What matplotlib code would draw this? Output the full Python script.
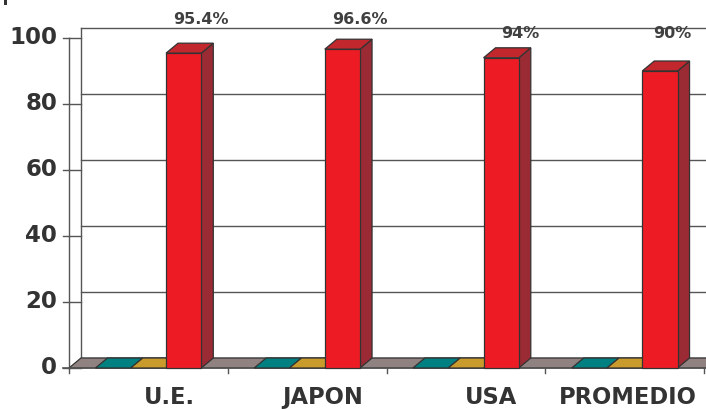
import numpy as np
import matplotlib.pyplot as plt
from matplotlib.patches import Polygon, Rectangle

# ---- data ----
categories = ['U.E.', 'JAPON', 'USA', 'PROMEDIO']
serie_teal = [0, 0, 0, 0]
serie_gold = [0, 0, 0, 0]
serie_red = [95.4, 96.6, 94, 90]
value_labels = ['95.4%', '96.6%', '94%', '90%']
y_ticks = [0, 20, 40, 60, 80, 100]

# ---- style ----
c_floor = '#8f8280'
c_teal = '#008080'
c_gold = '#c99a2c'
c_red = ('#ed1c24', '#c1272d', '#9a2a33')   # front, top, side
c_edge = '#333333'
c_grid = '#555555'
c_text = '#333333'
font = 'DejaVu Sans'

W, H = 706, 409
fig = plt.figure(figsize=(W / 100, H / 100), dpi=100)
ax = fig.add_axes([0, 0, 1, 1])
ax.axis('off')

# pixel mapping of the front plane
x0px, cat_px = 69, 158.75
y0px, unit_px = 41, 3.3
ax.set_xlim(-x0px / cat_px, (W - x0px) / cat_px)
ax.set_ylim(-y0px / unit_px, (H - y0px) / unit_px)

dx = 12 / cat_px      # depth offset
dy = 10 / unit_px
n = len(categories)
bw = 1 / 4.5          # gap width 150%
off0 = 0.75 * bw


def poly(pts, fc, z, lw=0.9):
    ax.add_patch(Polygon(pts, closed=True, fc=fc, ec=c_edge, lw=lw, zorder=z,
                         joinstyle='miter'))


# back wall gridlines
for v in y_ticks:
    ax.plot([dx, n + dx + 1], [v + dy, v + dy], color=c_grid, lw=1.0, zorder=1)
    ax.plot([0, dx], [v, v], color=c_grid, lw=1.0, zorder=1)
    ax.plot([-0.04, 0], [v, v], color=c_grid, lw=1.0, zorder=1)
    ax.text(-0.075, v, str(v), ha='right', va='center', fontsize=16.5,
            fontweight='bold', color=c_text, family=font)
ax.plot([dx, dx], [dy, 100 + dy], color=c_grid, lw=1.0, zorder=1)
ax.plot([0, 0], [0, 100], color=c_grid, lw=1.0, zorder=1)

# floor
poly([(0, 0), (n + 1, 0), (n + 1 + dx, dy), (dx, dy)], c_floor, 2)
ax.plot([-0.04, n + 1], [0, 0], color=c_grid, lw=1.2, zorder=3)
for i in range(n + 1):
    ax.plot([i, i], [0, -1.5], color=c_grid, lw=1.0, zorder=3)

# bars
for i in range(n):
    for j, (vals, col) in enumerate([(serie_teal, c_teal), (serie_gold, c_gold)]):
        a = i + off0 + j * bw
        b = a + bw
        poly([(a, 0), (b, 0), (b + dx, dy), (a + dx, dy)], col, 4)
    a = i + off0 + 2 * bw
    b = a + bw
    v = serie_red[i]
    poly([(b, 0), (b + dx, dy), (b + dx, v + dy), (b, v)], c_red[2], 5)
    poly([(a, v), (b, v), (b + dx, v + dy), (a + dx, v + dy)], c_red[1], 5)
    poly([(a, 0), (b, 0), (b, v), (a, v)], c_red[0], 6)

# value labels
lab_x = [0.83, 1.83, 2.84, 3.80]
lab_y = [105.5, 105.5, 101.3, 101.3]
for i in range(n):
    ax.text(lab_x[i], lab_y[i], value_labels[i], ha='center', va='center',
            fontsize=11.5, fontweight='bold', color='#404040', family=font)

# category labels
cat_x = [0.635, 1.60, 2.66, 3.52]
for i in range(n):
    ax.text(cat_x[i], -8.8, categories[i], ha='center', va='center',
            fontsize=16.3, fontweight='bold', color=c_text, family=font)

# leftover mark at top-left corner
fig.patches.append(Rectangle((4 / W, 1 - 5 / H), 3 / W, 5 / H,
                             transform=fig.transFigure, fc='#333333', ec='none'))

fig.savefig('out.png', dpi=100)
